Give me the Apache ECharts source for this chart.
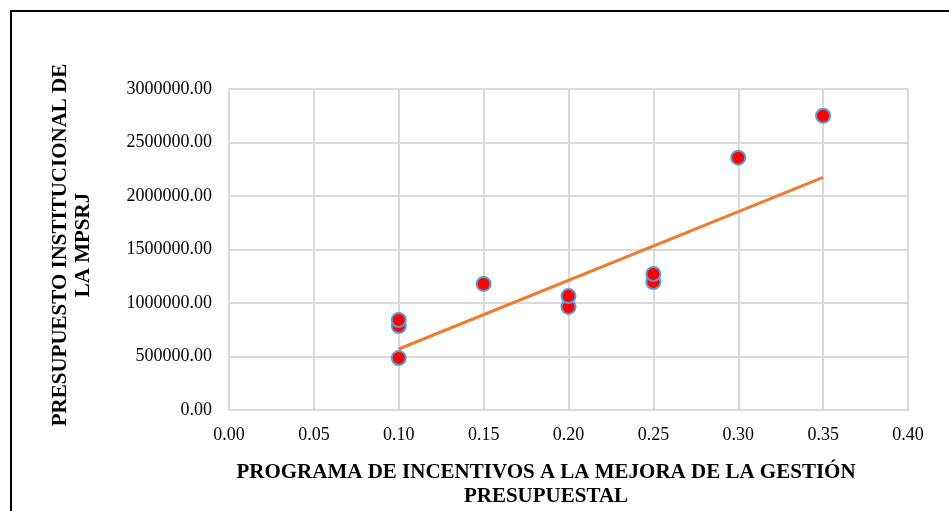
<!DOCTYPE html>
<html>
<head>
<meta charset="utf-8">
<script src="https://cdn.jsdelivr.net/npm/echarts@6/dist/echarts.min.js"></script>
<style>html,body{margin:0;padding:0;background:#fff;}#c{width:949px;height:511px;}</style>
</head>
<body>
<div id="c"></div>
<script>
const xValues = [0.10, 0.10, 0.10, 0.15, 0.20, 0.20, 0.25, 0.25, 0.30, 0.35];
const yValues = [485000, 785000, 841000, 1178000, 963000, 1065000, 1196000, 1271000, 2358000, 2750000];
const trendX = [0.10, 0.35];
const trendY = [570000, 2175000];
const xTitleLines = ['PROGRAMA DE INCENTIVOS A LA MEJORA DE LA GESTIÓN', 'PRESUPUESTAL'];
const yTitleLines = ['PRESUPUESTO INSTITUCIONAL DE', 'LA MPSRJ'];

const chart = echarts.init(document.getElementById('c'));
const serif = '"Liberation Serif", "Times New Roman", serif';
const gridColor = '#d9d9d9';
chart.setOption({
  animation: false,
  grid: { left: 229, right: 41, top: 89, bottom: 101 },
  xAxis: {
    type: 'value', min: 0, max: 0.4, interval: 0.05,
    axisLine: { show: true, lineStyle: { color: gridColor, width: 2 } },
    axisTick: { show: false },
    splitLine: { show: true, lineStyle: { color: gridColor, width: 2 } },
    axisLabel: { color: '#000', fontFamily: serif, fontSize: 18, margin: 16, formatter: v => v.toFixed(2) }
  },
  yAxis: {
    type: 'value', min: 0, max: 3000000, interval: 500000,
    axisLine: { show: true, lineStyle: { color: gridColor, width: 2 } },
    axisTick: { show: false },
    splitLine: { show: true, lineStyle: { color: gridColor, width: 2 } },
    axisLabel: { color: '#000', fontFamily: serif, fontSize: 18, margin: 17, formatter: v => v.toFixed(2) }
  },
  series: [
    {
      type: 'line',
      data: trendX.map((x, i) => [x, trendY[i]]),
      symbol: 'none',
      lineStyle: { color: '#ed7d31', width: 3 },
      z: 2
    },
    {
      type: 'scatter',
      data: xValues.map((x, i) => [x, yValues[i]]),
      symbolSize: 14,
      itemStyle: { color: '#ff0000', borderColor: '#5b9bd5', borderWidth: 2, opacity: 1 },
      z: 3
    }
  ],
  graphic: [
    { type: 'rect', shape: { x: 11, y: 11, width: 960, height: 540 }, style: { fill: 'none', stroke: '#000', lineWidth: 2 }, silent: true },
    { type: 'text', x: 546, y: 473, style: { text: xTitleLines[0], font: 'bold 21px ' + serif, fill: '#000', textAlign: 'center', textVerticalAlign: 'middle' } },
    { type: 'text', x: 546, y: 497, style: { text: xTitleLines[1], font: 'bold 21px ' + serif, fill: '#000', textAlign: 'center', textVerticalAlign: 'middle' } },
    { type: 'text', x: 61, y: 245, rotation: Math.PI / 2, style: { text: yTitleLines[0], font: 'bold 21px ' + serif, fill: '#000', textAlign: 'center', textVerticalAlign: 'middle' } },
    { type: 'text', x: 84, y: 245, rotation: Math.PI / 2, style: { text: yTitleLines[1], font: 'bold 21px ' + serif, fill: '#000', textAlign: 'center', textVerticalAlign: 'middle' } }
  ]
});
</script>
</body>
</html>
